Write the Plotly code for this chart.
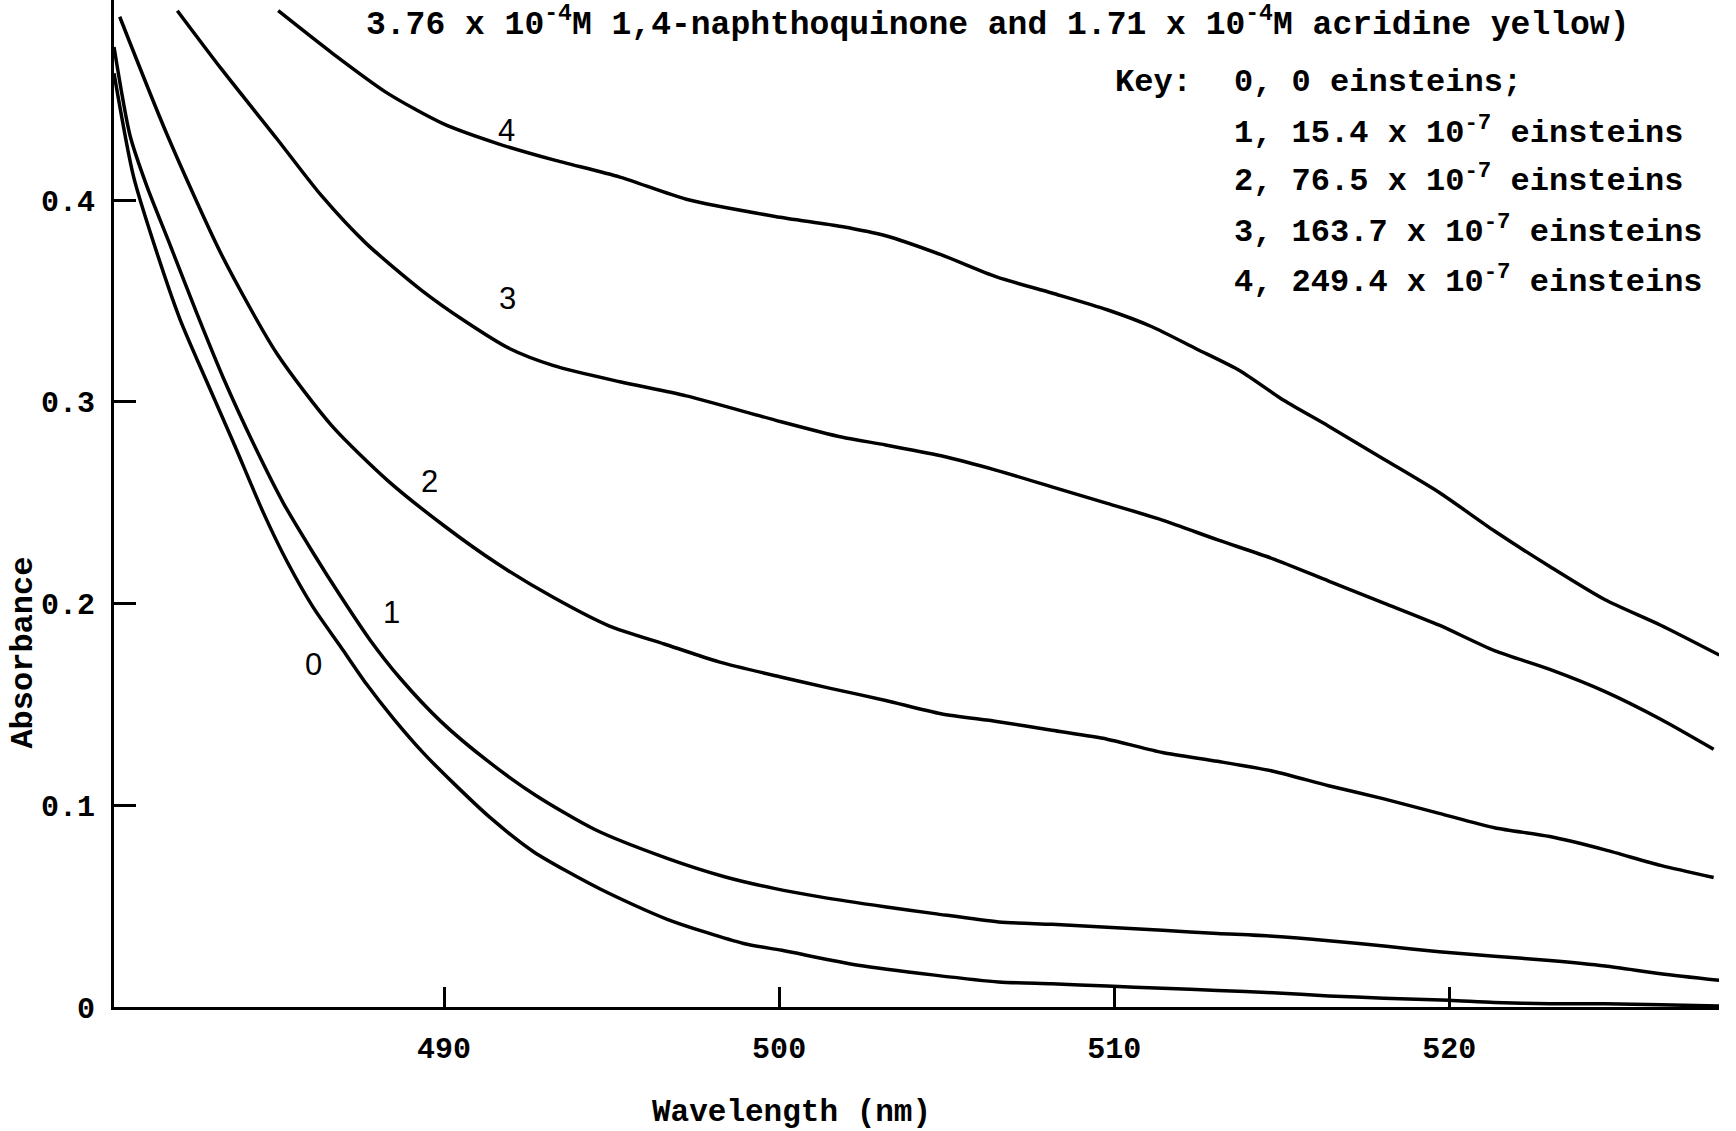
import plotly.graph_objects as go

# ---- data (wavelength nm, absorbance) ----
wl_0 = [480.15, 480.73, 481.43, 482.12, 482.92, 483.71, 484.61, 485.31, 486.10, 486.90, 487.69, 488.49,
        489.38, 490.28, 491.37, 492.67, 494.66, 496.66, 498.94, 500.08, 502.36, 504.64, 506.55, 508.14,
        509.79, 511.44, 513.09, 514.74, 516.40, 518.05, 520.00, 521.35, 523.00, 524.65, 526.31, 528.06]
abs_0 = [0.463, 0.412, 0.374, 0.341, 0.310, 0.280, 0.245, 0.221, 0.198, 0.179, 0.160, 0.143,
         0.126, 0.111, 0.094, 0.077, 0.0585, 0.0435, 0.0315, 0.0281, 0.0207, 0.0158, 0.0124, 0.0115,
         0.0104, 0.0093, 0.0082, 0.0071, 0.0055, 0.0044, 0.0033, 0.0022, 0.0016, 0.0016, 0.0011, 0.0005]

wl_1 = [480.15, 480.63, 481.13, 481.82, 482.62, 483.41, 484.35, 485.20, 486.10, 486.90, 487.79, 488.69,
        489.91, 491.30, 492.73, 494.50, 496.66, 498.37, 499.85, 501.22, 503.15, 504.64, 506.55, 508.14,
        509.79, 511.44, 513.09, 514.74, 516.40, 518.05, 519.70, 521.35, 523.00, 524.65, 526.31, 528.06]
abs_1 = [0.476, 0.432, 0.407, 0.378, 0.344, 0.312, 0.278, 0.250, 0.225, 0.204, 0.182, 0.163,
         0.1415, 0.122, 0.105, 0.088, 0.0737, 0.0646, 0.0588, 0.0546, 0.0497, 0.0463, 0.0422, 0.041,
         0.0395, 0.038, 0.0365, 0.0351, 0.0329, 0.0302, 0.0274, 0.0252, 0.023, 0.0203, 0.0165, 0.0132]

wl_2 = [480.32, 481.71, 483.36, 485.01, 486.66, 488.32, 489.97, 491.62, 493.27, 494.92, 496.57, 498.23,
        500.08, 501.53, 503.18, 504.83, 506.49, 508.14, 509.79, 511.44, 513.09, 514.74, 516.40, 518.05,
        519.70, 521.35, 523.00, 524.65, 526.31, 527.89]
abs_2 = [0.491, 0.4335, 0.373, 0.324, 0.288, 0.261, 0.239, 0.2195, 0.203, 0.189, 0.180, 0.171,
         0.1635, 0.158, 0.152, 0.1454, 0.1416, 0.1372, 0.1328, 0.1262, 0.1218, 0.1169, 0.1097, 0.1032,
         0.096, 0.0889, 0.0845, 0.0779, 0.0702, 0.0642]

wl_3 = [482.04, 483.36, 485.01, 486.33, 487.65, 489.31, 490.63, 491.95, 493.27, 495.25, 497.23, 499.88,
        501.86, 503.18, 504.83, 506.49, 508.14, 509.79, 511.44, 513.09, 514.74, 516.40, 518.05, 519.70,
        521.35, 523.00, 524.65, 526.31, 527.89]
abs_3 = [0.494, 0.465, 0.4305, 0.4025, 0.379, 0.3556, 0.340, 0.3265, 0.318, 0.310, 0.303, 0.291,
         0.2826, 0.2787, 0.2733, 0.2661, 0.2579, 0.2497, 0.2414, 0.2316, 0.2222, 0.2112, 0.2003, 0.1893,
         0.1767, 0.1674, 0.1564, 0.1427, 0.1278]

wl_4 = [485.05, 486.66, 488.32, 489.97, 491.62, 493.27, 495.25, 497.23, 499.88, 501.86, 503.18, 504.83,
        506.49, 508.14, 509.79, 511.11, 512.43, 513.75, 515.07, 516.40, 518.05, 519.70, 521.35, 523.00,
        524.65, 526.31, 528.06]
abs_4 = [0.494, 0.473, 0.453, 0.438, 0.428, 0.420, 0.4115, 0.4005, 0.392, 0.387, 0.3824, 0.373,
         0.362, 0.354, 0.3457, 0.3374, 0.3265, 0.3155, 0.3007, 0.288, 0.2716, 0.2551, 0.236, 0.2184,
         0.2019, 0.1893, 0.1745]

curve_labels = ["0", "1", "2", "3", "4"]
label_wl = [486.10, 488.42, 489.57, 491.88, 491.85]
label_abs = [0.170, 0.1955, 0.2606, 0.3512, 0.4346]

x_ticks = [490, 500, 510, 520]
y_ticks = [0, 0.1, 0.2, 0.3, 0.4]
y_ticktext = ["0", "0.1", "0.2", "0.3", "0.4"]

title_text = "3.76 x 10<sup>-4</sup>M 1,4-naphthoquinone and 1.71 x 10<sup>-4</sup>M acridine yellow)"
key_title = "Key:"
key_lines = ["0, 0 einsteins;",
             "1, 15.4 x 10<sup>-7</sup> einsteins",
             "2, 76.5 x 10<sup>-7</sup> einsteins",
             "3, 163.7 x 10<sup>-7</sup> einsteins",
             "4, 249.4 x 10<sup>-7</sup> einsteins"]

MONO = "Liberation Mono, Courier New, monospace"

fig = go.Figure()
for wl, ab in [(wl_0, abs_0), (wl_1, abs_1), (wl_2, abs_2), (wl_3, abs_3), (wl_4, abs_4)]:
    fig.add_trace(go.Scatter(x=wl, y=ab, mode="lines",
                             line=dict(color="black", width=3.5, shape="spline", smoothing=0.7),
                             showlegend=False, hoverinfo="skip"))

annotations = []
for t, xv, yv in zip(curve_labels, label_wl, label_abs):
    annotations.append(dict(x=xv, y=yv, xref="x", yref="y", text=t, showarrow=False,
                            font=dict(family="Liberation Sans, Arial", size=31, color="black")))

annotations.append(dict(x=0.1558, y=0.978, xref="paper", yref="paper", text="<b>" + title_text + "</b>",
                        showarrow=False, xanchor="left", yanchor="middle",
                        font=dict(family=MONO, size=33, color="black")))
annotations.append(dict(x=0.6224, y=0.9176, xref="paper", yref="paper", text="<b>" + key_title + "</b>",
                        showarrow=False, xanchor="left", yanchor="middle",
                        font=dict(family=MONO, size=32, color="black")))
key_y = [0.9176, 0.870, 0.8223, 0.7717, 0.7221]
for t, yv in zip(key_lines, key_y):
    annotations.append(dict(x=0.6966, y=yv, xref="paper", yref="paper", text="<b>" + t + "</b>",
                            showarrow=False, xanchor="left", yanchor="middle",
                            font=dict(family=MONO, size=32, color="black")))

annotations.append(dict(x=0.4224, y=-0.1047, xref="paper", yref="paper", text="<b>Wavelength (nm)</b>",
                        showarrow=False, xanchor="center", yanchor="middle",
                        font=dict(family=MONO, size=31, color="black")))
annotations.append(dict(x=-0.0561, y=0.3519, xref="paper", yref="paper", text="<b>Absorbance</b>",
                        showarrow=False, xanchor="center", yanchor="middle", textangle=-90,
                        font=dict(family=MONO, size=32, color="black")))

fig.update_layout(
    width=1736, height=1131,
    margin=dict(l=114, r=17, t=0, b=124),
    paper_bgcolor="white", plot_bgcolor="white",
    annotations=annotations,
    xaxis=dict(range=[480.15, 528.05], tickvals=x_ticks, ticktext=["<b>%d</b>" % v for v in x_ticks],
               ticks="inside", ticklen=20, tickwidth=3,
               tickcolor="black", showline=True, linecolor="black", linewidth=3, showgrid=False,
               zeroline=False, ticklabelstandoff=12,
               tickfont=dict(family=MONO, size=30, color="black")),
    yaxis=dict(range=[0, 0.4993], tickvals=y_ticks, ticktext=["<b>%s</b>" % t for t in y_ticktext],
               ticks="inside", ticklen=22,
               tickwidth=3, tickcolor="black", showline=True, linecolor="black", linewidth=3,
               showgrid=False, zeroline=False, ticklabelstandoff=10,
               tickfont=dict(family=MONO, size=30, color="black")),
)

fig.write_html("out.html")
